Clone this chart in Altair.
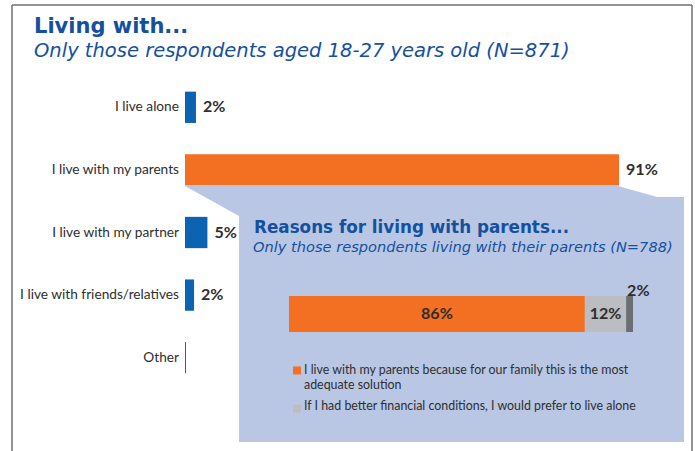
import altair as alt
import numpy as np
import pandas as pd

# ---------------- data ----------------
categories = ["I live alone", "I live with my parents", "I live with my partner",
              "I live with friends/relatives", "Other"]
shares = [2.3, 91, 4.7, 1.9, 0.2]
share_labels = ["2%", "91%", "5%", "2%", ""]

reason_keys = ["family", "financial", "other"]
reason_values = [86, 12, 2]
reason_labels = ["86%", "12%", "2%"]

legend_keys = ["family", "financial"]
legend_texts = [
    "I live with my parents because for our family this is the most\nadequate solution",
    "If I had better financial conditions, I would prefer to live alone",
]

title_text = "Living with..."
subtitle_text = "Only those respondents aged 18-27 years old (N=871)"
inset_title_text = "Reasons for living with parents..."
inset_subtitle_text = "Only those respondents living with their parents (N=788)"

# ---------------- styles / layout ----------------
FONT = "Lato"
TFONT = "DejaVu Sans"
BLUE = "#0b63b2"
ORANGE = "#f36f21"
TITLE_BLUE = "#15509f"
TEXT = "#2e2e2e"
PANEL = "#b9c7e4"
bar_colors = [BLUE, ORANGE, BLUE, BLUE, BLUE]
reason_colors = [ORANGE, "#bcbdc0", "#6d6e71"]

W, H = 695, 451
panel_x = [185, 239, 239.01, 618, 657, 684]
panel_top = [186, 186, 186, 186, 197, 197]
panel_bottom = [186, 216, 442, 442, 442, 442]

main_x = alt.Scale(domain=[0, 100], range=[185, 662])
main_y = alt.Scale(domain=categories, range=[76, 389], paddingInner=0.5, paddingOuter=0.25)
inset_x = alt.Scale(domain=[0, 100], range=[289, 633])

# ---------------- frame ----------------
frame_color = "#707070"
left_line = alt.Chart().mark_rule(color=frame_color, strokeWidth=1.5).encode(
    x=alt.value(12), y=alt.value(5), y2=alt.value(H))
top_line = alt.Chart().mark_rule(color=frame_color, strokeWidth=1.5).encode(
    x=alt.value(12), x2=alt.value(692), y=alt.value(5))
right_line = alt.Chart().mark_rule(color=frame_color, strokeWidth=1.5).encode(
    x=alt.value(692), y=alt.value(5), y2=alt.value(H))

# ---------------- inset panel ----------------
panel_df = pd.DataFrame({"px": panel_x, "top": panel_top, "bottom": panel_bottom})
panel = alt.Chart(panel_df).mark_area(color=PANEL, fill=PANEL, opacity=1, orient="vertical",
                                      interpolate="linear").encode(
    x=alt.X("px:Q", scale=alt.Scale(domain=[0, W], range=[0, W], zero=False, nice=False), axis=None),
    y=alt.Y("top:Q", scale=alt.Scale(domain=[0, H], range=[0, H], zero=False, nice=False), axis=None),
    y2=alt.Y2("bottom:Q"),
)

# ---------------- main bars ----------------
main_df = pd.DataFrame({"category": categories, "share": shares, "label": share_labels})

bars = alt.Chart(main_df).mark_bar().encode(
    x=alt.X("share:Q", scale=main_x, axis=None),
    y=alt.Y("category:N", scale=main_y, axis=None, sort=categories),
    color=alt.Color("category:N", scale=alt.Scale(domain=categories, range=bar_colors), legend=None),
)
cat_text = alt.Chart(main_df).mark_text(
    align="right", baseline="middle", dx=-6, font=FONT, fontSize=13.7, color=TEXT
).encode(
    x=alt.X(datum=0, type="quantitative", scale=main_x, axis=None),
    y=alt.Y("category:N", scale=main_y, axis=None, sort=categories),
    text="category:N",
)
val_text = alt.Chart(main_df).mark_text(
    align="left", baseline="middle", dx=7, font=FONT, fontSize=16, fontWeight="bold", color=TEXT
).encode(
    x=alt.X("share:Q", scale=main_x, axis=None),
    y=alt.Y("category:N", scale=main_y, axis=None, sort=categories),
    text="label:N",
)
main = alt.layer(bars, cat_text, val_text)

# ---------------- inset stacked bar ----------------
vals = np.array(reason_values, dtype=float)
ends = np.cumsum(vals)
starts = ends - vals
inset_df = pd.DataFrame({
    "key": reason_keys, "value": reason_values, "label": reason_labels,
    "start": starts, "end": ends, "mid": (starts + ends) / 2,
    "idx": list(range(len(reason_keys))),
})
reason_color_scale = alt.Scale(domain=reason_keys, range=reason_colors)

inset_bar = alt.Chart(inset_df).mark_bar().encode(
    x=alt.X("start:Q", scale=inset_x, axis=None),
    x2="end:Q",
    y=alt.value(296), y2=alt.value(332),
    color=alt.Color("key:N", scale=reason_color_scale, legend=None),
)
inset_mid_labels = alt.Chart(inset_df).transform_filter("datum.idx < 2").mark_text(
    align="center", baseline="middle", font=FONT, fontSize=16, fontWeight="bold", color=TEXT
).encode(
    x=alt.X("mid:Q", scale=inset_x, axis=None),
    y=alt.value(314),
    text="label:N",
)
inset_top_label = alt.Chart(inset_df).transform_filter("datum.idx == 2").mark_text(
    align="left", baseline="alphabetic", dx=1, font=FONT, fontSize=16, fontWeight="bold", color=TEXT
).encode(
    x=alt.X("start:Q", scale=inset_x, axis=None),
    y=alt.value(296),
    text="label:N",
)

# ---------------- legend ----------------
legend_df = pd.DataFrame({"key": legend_keys, "text": legend_texts})
legend_sq = alt.Chart(legend_df).mark_square(size=64, opacity=1).encode(
    x=alt.value(297),
    y=alt.Y("key:N", scale=alt.Scale(type="point", domain=legend_keys, range=[370.5, 408.5], padding=0), axis=None),
    color=alt.Color("key:N", scale=reason_color_scale, legend=None),
)
legend_txt = alt.Chart(legend_df).mark_text(
    align="left", baseline="alphabetic", lineBreak="\n", lineHeight=15,
    font=FONT, fontSize=12.4, color=TEXT
).encode(
    x=alt.value(304),
    y=alt.Y("key:N", scale=alt.Scale(type="point", domain=legend_keys, range=[374, 410], padding=0), axis=None),
    text="text:N",
)

# ---------------- titles ----------------
def label(txt, x, y, size, weight="normal", style="normal", color=TITLE_BLUE):
    return alt.Chart(pd.DataFrame({"t": [txt]})).mark_text(
        align="left", baseline="alphabetic", font=TFONT, fontSize=size,
        fontWeight=weight, fontStyle=style, color=color
    ).encode(x=alt.value(x), y=alt.value(y), text="t:N")

title = label(title_text, 34, 33, 21, weight="bold")
subtitle = label(subtitle_text, 34, 57, 19.5, style="italic")
inset_title = label(inset_title_text, 254, 233, 16.8, weight="bold")
inset_subtitle = label(inset_subtitle_text, 253, 252, 14.6, style="italic")

chart = alt.layer(
    panel, left_line, top_line, right_line, main,
    inset_bar, inset_mid_labels, inset_top_label, legend_sq, legend_txt,
    title, subtitle, inset_title, inset_subtitle,
).resolve_scale(
    x="independent", y="independent", color="independent"
).properties(
    width=W, height=H, padding=0, autosize=alt.AutoSizeParams(type="none"),
    background="white",
).configure_view(stroke=None)

chart.save("out.html", embed_options={"renderer": "svg", "actions": False})
